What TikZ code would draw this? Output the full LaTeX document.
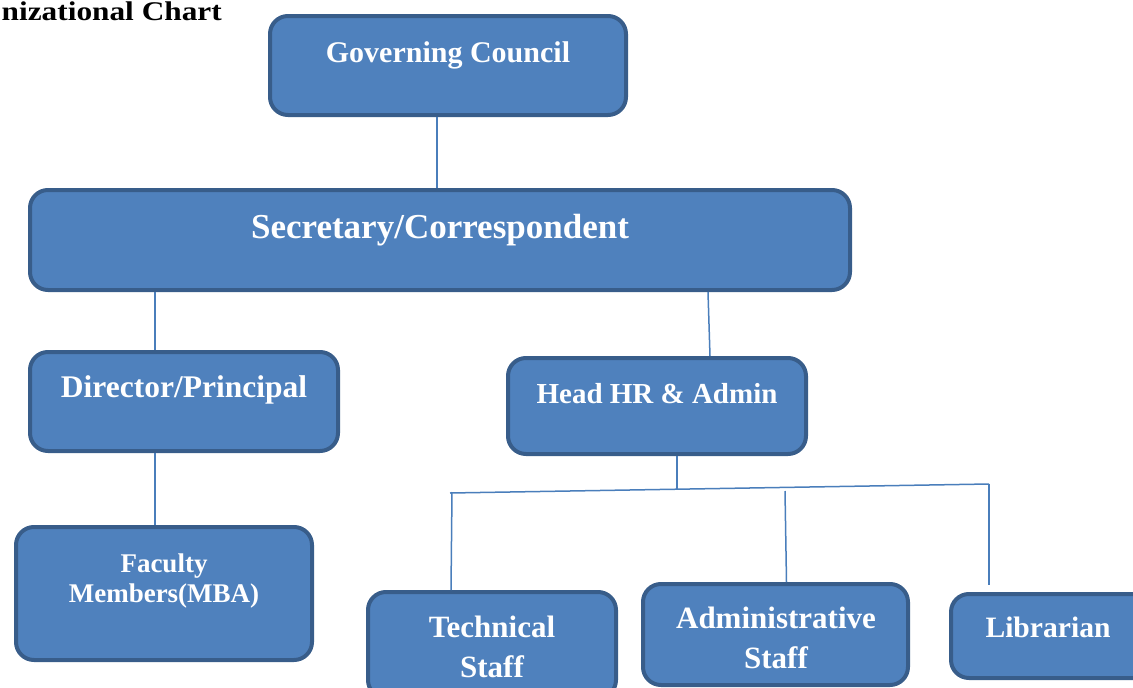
\documentclass[tikz,border=0pt]{standalone}
\usepackage{fontspec}
\setmainfont{Liberation Serif}
\definecolor{boxfill}{HTML}{4F81BD}
\definecolor{boxline}{HTML}{385D8A}
\definecolor{linkline}{HTML}{4A7EBB}

\begin{document}
\begin{tikzpicture}[x=1pt, y=-1pt,
	box/.style={draw=boxline, fill=boxfill, line width=4pt, rounded corners=18pt, inner sep=0pt},
	txt/.style={text=white, inner sep=0pt, align=center, anchor=base},
	link/.style={draw=linkline, line width=1.5pt}]
	\useasboundingbox (0,0) rectangle (1133,688);
	\clip (0,0) rectangle (1133,688);

	\node[anchor=base east, inner sep=0pt, font=\bfseries\fontsize{27}{27}\selectfont] (title) at (222,20.5) {\scalebox{1.16}[1]{nizational Chart}};

	\node[box, minimum width=356pt, minimum height=99pt] (gc) at (448,65.5) {};
	\node[box, minimum width=820pt, minimum height=100pt] (sec) at (440,240) {};
	\node[box, minimum width=308pt, minimum height=99pt] (dir) at (184,401.5) {};
	\node[box, minimum width=298pt, minimum height=96pt] (hr) at (657,406) {};
	\node[box, minimum width=296pt, minimum height=133pt] (fac) at (164,593.5) {};
	\node[box, minimum width=248pt, minimum height=106pt] (tech) at (492,645) {};
	\node[box, minimum width=265pt, minimum height=101pt] (adm) at (775.5,634.5) {};
	\node[box, minimum width=207pt, minimum height=84pt] (lib) at (1054.5,636) {};

	\node[txt, font=\bfseries\fontsize{30}{30}\selectfont] (gctext) at (448,62) {Governing Council};
	\node[txt, font=\bfseries\fontsize{35}{35}\selectfont] (sectext) at (440,238) {Secretary/Correspondent};
	\node[txt, font=\bfseries\fontsize{31.5}{31.5}\selectfont] (dirtext) at (184,397) {Director/Principal};
	\node[txt, font=\bfseries\fontsize{29}{29}\selectfont] (hrtext) at (657,403) {Head HR \& Admin};
	\node[txt, font=\bfseries\fontsize{27}{30}\selectfont] (factext) at (164,602) {Faculty\\Members(MBA)};
	\node[txt, font=\bfseries\fontsize{31}{40}\selectfont] (techtext) at (492,677) {Technical\\Staff};
	\node[txt, font=\bfseries\fontsize{31}{40}\selectfont] (admtext) at (776,668) {Administrative\\Staff};
	\node[txt, font=\bfseries\fontsize{29.6}{30}\selectfont] (libtext) at (1048,637) {Librarian};

	\coordinate (hrdrop) at (677,489);
	\coordinate (busl) at (450,493);
	\coordinate (busr) at (989,484);
	\coordinate (techtop) at (452,492);
	\coordinate (admtop) at (785,491);
	\coordinate (libend) at (989,585);

	\draw[link] ([xshift=-11pt]gc.south) -- ([xshift=-3pt]sec.north);
	\draw[link] ([xshift=-285pt]sec.south) -- ([xshift=-29pt]dir.north);
	\draw[link] ([xshift=268pt]sec.south) -- ([xshift=53pt]hr.north);
	\draw[link] ([xshift=-29pt]dir.south) -- ([xshift=-9pt]fac.north);
	\draw[link] ([xshift=20pt]hr.south) -- (hrdrop);
	\draw[link] (busl) -- (busr);
	\draw[link] (techtop) -- ([xshift=-41pt]tech.north);
	\draw[link] (admtop) -- ([xshift=11pt]adm.north);
	\draw[link] (busr) -- (libend);
\end{tikzpicture}
\end{document}
